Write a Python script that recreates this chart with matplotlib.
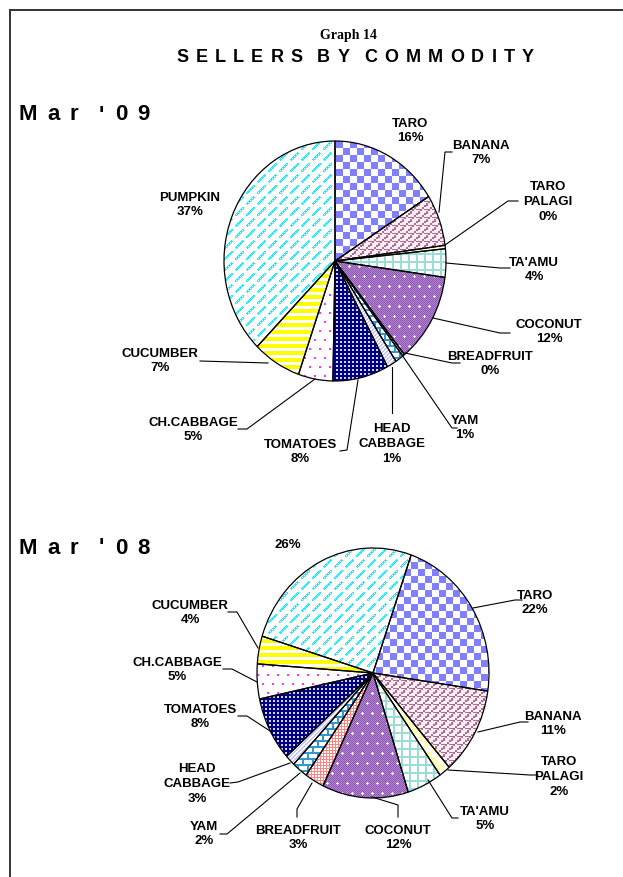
import numpy as np
import matplotlib
matplotlib.use("Agg")
import matplotlib.pyplot as plt
from matplotlib.lines import Line2D
from matplotlib.font_manager import FontProperties
from matplotlib.textpath import TextToPath

# ---------------------------------------------------------------
# DATA
# ---------------------------------------------------------------
commodities = ["TARO", "BANANA", "TARO\nPALAGI", "TA'AMU", "COCONUT", "BREADFRUIT",
               "YAM", "HEAD\nCABBAGE", "TOMATOES", "CH.CABBAGE", "CUCUMBER", "PUMPKIN"]

# slice sizes (share of sellers, %)
share_09 = [15.9, 6.9, 0.45, 3.8, 12.0, 0.3, 1.2, 1.4, 8.1, 5.0, 7.0, 37.45]
share_08 = [22.0, 11.3, 1.6, 4.9, 12.0, 2.7, 2.2, 1.4, 8.3, 4.5, 3.6, 25.6]

# printed percentage labels
pct_09 = [16, 7, 0, 4, 12, 0, 1, 1, 8, 5, 7, 37]
pct_08 = [22, 11, 2, 5, 12, 3, 2, 3, 8, 5, 4, 26]

W, H = 623, 877
LABEL_FONT = ["Liberation Sans", "DejaVu Sans"]

# ---------------------------------------------------------------
# FILL PATTERNS (Excel-like textures)
# ---------------------------------------------------------------
def hex_rgb(h):
    return np.array(matplotlib.colors.to_rgb(h))


def texture(name, h, w):
    i, j = np.indices((h, w))
    img = np.ones((h, w, 3))
    if name == "TARO":
        m = ((i // 7 + j // 7) % 2 == 0)
        img[m] = hex_rgb("#8080FF")
    elif name == "BANANA":
        m = ((i // 2 + j // 2) % 4 == 0) | ((i % 4 == 0) & ((j // 4) % 2 == 0))
        img[m] = hex_rgb("#B06C90")
        img[~m] = hex_rgb("#F8EEF3")
    elif name == "TARO\nPALAGI":
        m = ((i // 6 + j // 6) % 2 == 0)
        img[m] = hex_rgb("#FFFFA8")
    elif name == "TA'AMU":
        m = (i % 8 < 2) | (j % 8 < 2)
        img[m] = hex_rgb("#9CDCD6")
    elif name == "COCONUT":
        img[:] = hex_rgb("#9256B8")
        img[(i + j) % 2 == 0] = hex_rgb("#AE84CA")
        jj = (j + 5 * ((i // 10) % 2)) % 10
        ii = i % 10
        plus = ((ii == 5) & (jj >= 4) & (jj <= 6)) | ((jj == 5) & (ii >= 4) & (ii <= 6))
        img[plus] = 1.0
    elif name == "BREADFRUIT":
        m = (((i + j) // 3 + (i - j) // 3) % 2 == 0)
        img[m] = hex_rgb("#FF8484")
    elif name == "YAM":
        jj = (j + 5 * ((i // 6) % 2)) % 10
        m = (i % 6 < 2) | (jj < 2)
        img[m] = hex_rgb("#3399CC")
    elif name == "HEAD\nCABBAGE":
        m = ((i + j) % 4 < 2)
        img[m] = hex_rgb("#C4C4FF")
    elif name == "TOMATOES":
        img[:] = hex_rgb("#000080")
        m = (i % 4 < 2) & (j % 4 < 2)
        img[m] = hex_rgb("#D0D0F0")
    elif name == "CH.CABBAGE":
        jj = (j + 5 * ((i // 9) % 2)) % 10
        m = (i % 9 < 2) & (jj < 2)
        img[m] = hex_rgb("#FF33FF")
    elif name == "CUCUMBER":
        m = (i % 7 < 4)
        img[m] = hex_rgb("#FFFF00")
    elif name == "PUMPKIN":
        ii, jj = i % 11, j % 11
        d = ii + jj
        box = (jj <= 8) & (ii <= 8)
        m = box & ((d == 7) | (d == 9) | ((d == 8) & (i % 2 == 0)))
        img[m] = hex_rgb("#1EEBFF")
    return img


# ---------------------------------------------------------------
# FIGURE
# ---------------------------------------------------------------
fig = plt.figure(figsize=(W / 100, H / 100), dpi=100)
fig.patch.set_facecolor("white")


def draw_pie(values, cx, cy, rx, ry, start):
    pad = 1.02
    ax = fig.add_axes([(cx - rx * pad) / W, (H - cy - ry * pad) / H,
                       2 * rx * pad / W, 2 * ry * pad / H])
    wedges, _ = ax.pie(values, radius=1, startangle=start, counterclock=False,
                       wedgeprops=dict(facecolor="none", edgecolor="black",
                                       linewidth=0.9, zorder=3))
    for name, wdg in zip(commodities, wedges):
        img = texture(name, int(2 * ry), int(2 * rx))
        im = ax.imshow(img, extent=(-1, 1, -1, 1), interpolation="nearest",
                       aspect="auto", zorder=1)
        im.set_clip_path(wdg)
    ax.set_xlim(-pad, pad)
    ax.set_ylim(-pad, pad)
    ax.set_aspect("auto")
    ax.axis("off")
    return ax


draw_pie(share_09, 335, 261, 111, 120, 90)
draw_pie(share_08, 373, 673, 116, 125, 70.8)

# overlay in pixel coordinates for text, leaders and frame
ov = fig.add_axes([0, 0, 1, 1])
ov.set_xlim(0, W)
ov.set_ylim(H, 0)
ov.axis("off")

# frame
ov.add_line(Line2D([10, W], [10, 10], color="#333333", lw=1.4))
ov.add_line(Line2D([10, 10], [10, H], color="#333333", lw=1.4))


def spaced_text(x, y, s, size, track, ha="center", family=("Liberation Sans", "DejaVu Sans")):
    """Draw letter-spaced text char by char (Excel-style wide tracking)."""
    prop = FontProperties(family=list(family), weight="bold", size=size)
    ttp = TextToPath()
    widths = [0 if c == " " else
              ttp.get_text_width_height_descent(c, prop, ismath=False)[0] * 100 / 72
              for c in s]
    total = sum(widths) + track * (len(s) - 1)
    x0 = x - total / 2 if ha == "center" else x
    for c, w in zip(s, widths):
        if c != " ":
            ov.text(x0, y, c, ha="left", va="center", fontproperties=prop)
        x0 += w + track


# titles
ov.text(348, 36, "Graph 14", ha="center", va="center", fontsize=10,
        fontweight="bold", family=["Liberation Serif", "DejaVu Serif"])
spaced_text(355, 58, "SELLERS BY COMMODITY", 13, 7.2)
spaced_text(18, 115, "Mar '09", 16, 10.4, ha="left")
spaced_text(18, 548, "Mar '08", 16, 10.4, ha="left")

# label positions (pixel centres) and leader lines
pos_09 = [(410, 131), (481, 153), (548, 202), (534, 270), (549, 332), (490, 364),
          (465, 428), (392, 444), (300, 452), (193, 430), (160, 361), (190, 205)]
lead_09 = [None,
           [(439, 212), (445, 152), (452, 152)],
           [(445, 245), (508, 201), (518, 201)],
           [(446, 263), (500, 268), (510, 268)],
           [(433, 318), (500, 333), (510, 333)],
           [(405, 353), (452, 363), (460, 363)],
           [(402, 355), (452, 428), (457, 428)],
           [(392, 367), (392, 413)],
           [(358, 380), (347, 450), (340, 451)],
           [(315, 379), (247, 429), (238, 429)],
           [(268, 363), (200, 361)],
           None]

pos_08 = [(535, 603), (553, 724), (559, 777), (485, 819), (398, 838), (298, 838),
          (204, 834), (197, 784), (200, 717), (177, 670), (190, 613), (288, 545)]
lead_08 = [[(473, 608), (515, 600), (522, 600)],
           [(478, 732), (520, 722), (528, 722)],
           [(448, 770), (530, 775), (538, 775)],
           [(428, 780), (452, 818), (458, 818)],
           [(372, 797), (398, 805), (398, 817)],
           [(312, 783), (297, 809), (297, 817)],
           [(300, 773), (227, 834), (220, 834)],
           [(290, 763), (238, 782), (230, 783)],
           [(270, 731), (247, 716), (238, 716)],
           [(257, 682), (232, 669), (223, 669)],
           [(258, 648), (237, 612), (228, 612)],
           None]


def put_labels(names, pcts, positions, leaders, skip_name=()):
    for k, (name, p, (x, y), ld) in enumerate(zip(names, pcts, positions, leaders)):
        txt = f"{p}%" if k in skip_name else f"{name}\n{p}%"
        ov.text(x, y, txt, ha="center", va="center", fontsize=9.5,
                fontweight="bold", family=LABEL_FONT, linespacing=1.3)
        if ld:
            xs, ys = zip(*ld)
            ov.add_line(Line2D(xs, ys, color="black", lw=0.8))


put_labels(commodities, pct_09, pos_09, lead_09)
put_labels(commodities, pct_08, pos_08, lead_08, skip_name=(11,))

fig.savefig("out.png", dpi=100, facecolor="white")
